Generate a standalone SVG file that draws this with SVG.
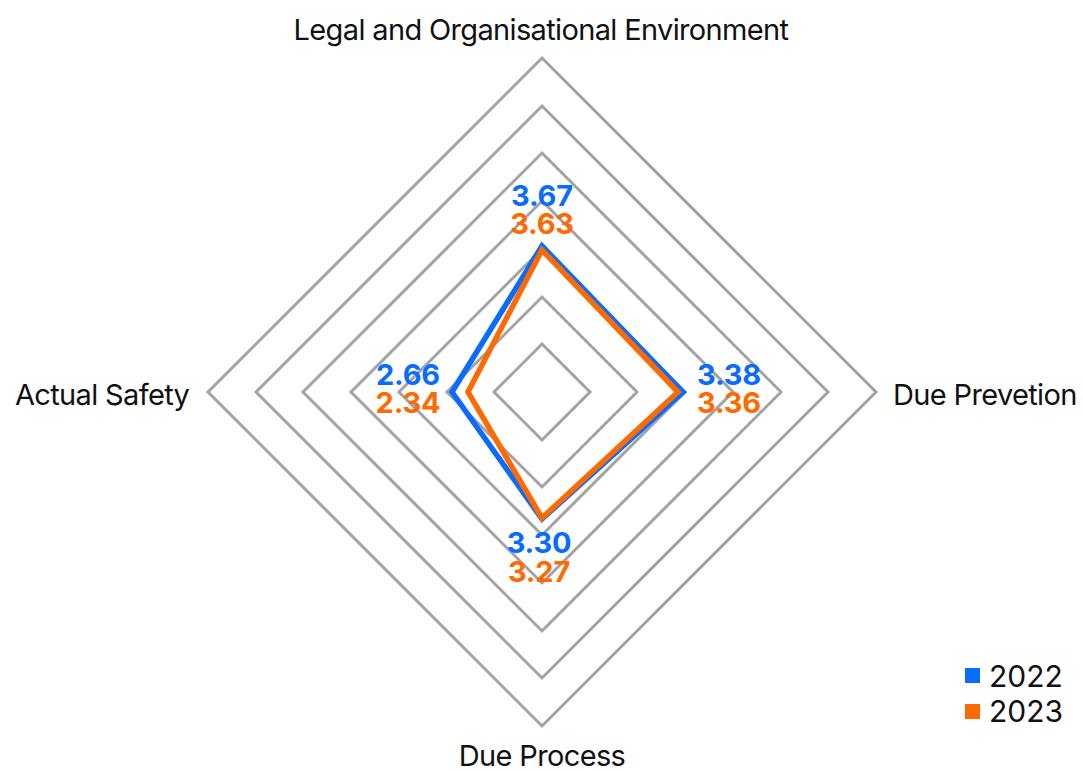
<svg xmlns="http://www.w3.org/2000/svg" width="1083" height="771" viewBox="0 0 1083 771">
<style>
.ring{fill:none;stroke:#a3a3a3;stroke-width:3}
.s22{fill:none;stroke:#0a6cff;stroke-width:5.5;stroke-linejoin:miter}
.s23{fill:none;stroke:#ff6a00;stroke-width:5.5;stroke-linejoin:miter}
.ax{font-family:Inter,"Liberation Sans",sans-serif;font-size:29px;fill:#111;letter-spacing:-0.65px}
.v{font-family:Inter,"Liberation Sans",sans-serif;font-size:29px;font-weight:700;text-anchor:middle;letter-spacing:-0.2px}
.b{fill:#0a6cff}.o{fill:#ff6a00}
.lg{font-family:Inter,"Liberation Sans",sans-serif;font-size:30px;fill:#111}
</style>
<rect width="1083" height="771" fill="#fff"/>
<g id="grid">
<polygon class="ring" points="542,58 876,392 542,726 208,392"/>
<polygon class="ring" points="542,106 828,392 542,678 256,392"/>
<polygon class="ring" points="542,153 781,392 542,631 303,392"/>
<polygon class="ring" points="542,201 733,392 542,583 351,392"/>
<polygon class="ring" points="542,249 685,392 542,535 399,392"/>
<polygon class="ring" points="542,297 637,392 542,487 447,392"/>
<polygon class="ring" points="542,344 590,392 542,440 494,392"/>
</g>
<g id="connectors">
<polygon id="series-2022" class="s22" points="542,246 683,392 542,519 452,392"/>
<polygon id="series-2023" class="s23" points="542,250 678,392 542,518 468,392"/>
</g>
<g id="axis-top"><text class="ax" x="541" y="40" text-anchor="middle">Legal and Organisational Environment</text></g>
<g id="axis-left"><text class="ax" x="15" y="405">Actual Safety</text></g>
<g id="axis-right"><text class="ax" x="893" y="405">Due Prevetion</text></g>
<g id="axis-bottom"><text class="ax" x="542" y="766" text-anchor="middle">Due Process</text></g>
<g id="values-top"><text class="v b" x="542" y="206">3.67</text><text class="v o" x="542" y="234">3.63</text></g>
<g id="values-left"><text class="v b" x="408" y="385">2.66</text><text class="v o" x="408" y="413">2.34</text></g>
<g id="values-right"><text class="v b" x="729" y="385">3.38</text><text class="v o" x="729" y="413">3.36</text></g>
<g id="values-bottom"><text class="v b" x="539" y="553">3.30</text><text class="v o" x="539" y="582">3.27</text></g>
<g id="legend">
<rect x="965" y="668" width="15" height="15" class="b"/>
<text class="lg" x="989" y="687">2022</text>
<rect x="965" y="704" width="15" height="15" class="o"/>
<text class="lg" x="989" y="722">2023</text>
</g>
</svg>
